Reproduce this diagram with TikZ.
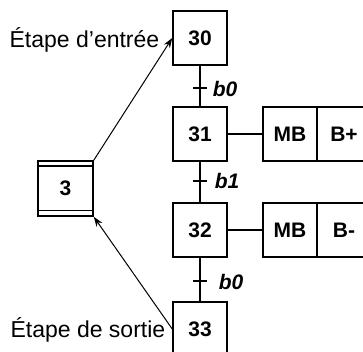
\documentclass[tikz,border=0pt]{standalone}
\usepackage{fontspec}
\setmainfont{Liberation Sans}
\usetikzlibrary{arrows.meta}
\tikzset{
  etape/.style={draw,line width=1.5pt,minimum size=54pt,inner sep=0pt,font=\fontsize{21}{25}\selectfont\bfseries},
  recept/.style={anchor=west,inner sep=0pt,font=\fontsize{21}{25}\selectfont\bfseries\itshape},
  legende/.style={anchor=east,inner sep=0pt,font=\fontsize{23}{27}\selectfont},
  fleche/.style={-{Stealth[length=10pt,width=7pt]},line width=1pt},
}
\begin{document}
\begin{tikzpicture}[x=1pt,y=-1pt,line width=1.5pt]
\useasboundingbox (0,0) rectangle (363,352);
% grafcet
\node[etape] (e30) at (200,38) {30};
\node[etape] (e31) at (200,134) {31};
\node[etape] (e32) at (200,230) {32};
\node[etape] (e33) at (200,329) {33};
\draw (e30) -- (e31);
\draw (e31) -- (e32);
\draw (e32) -- (e33);
% transitions
\coordinate (t1) at (200,88);
\coordinate (t2) at (200,181);
\coordinate (t3) at (200,281);
\draw ([xshift=-7pt]t1) -- ([xshift=7pt]t1);
\draw ([xshift=-7pt]t2) -- ([xshift=7pt]t2);
\draw ([xshift=-7pt]t3) -- ([xshift=7pt]t3);
\node[recept] (r1) at (212,89) {b0};
\node[recept] (r2) at (214,181) {b1};
\node[recept] (r3) at (218,282) {b0};
% actions
\node[etape] (mb31) at (290,134) {MB};
\node[etape] (bp31) at (344,134) {B+};
\node[etape] (mb32) at (290,230) {MB};
\node[etape] (bm32) at (344,230) {B-};
\draw (e31) -- (mb31);
\draw (e32) -- (mb32);
% macro-etape
\node[etape,minimum size=55pt] (m3) at (65.5,188.5) {3};
\draw ([yshift=-6pt]m3.north west) -- ([yshift=-6pt]m3.north east);
\draw ([yshift=6pt]m3.south west) -- ([yshift=6pt]m3.south east);
\draw[fleche] (m3.north east) -- (e30.west);
\draw[fleche] (e33.west) -- (m3.south east);
\node[legende] (lentree) at (160,40) {Étape d'entrée};
\node[legende] (lsortie) at (166,330) {Étape de sortie};
\end{tikzpicture}
\end{document}
